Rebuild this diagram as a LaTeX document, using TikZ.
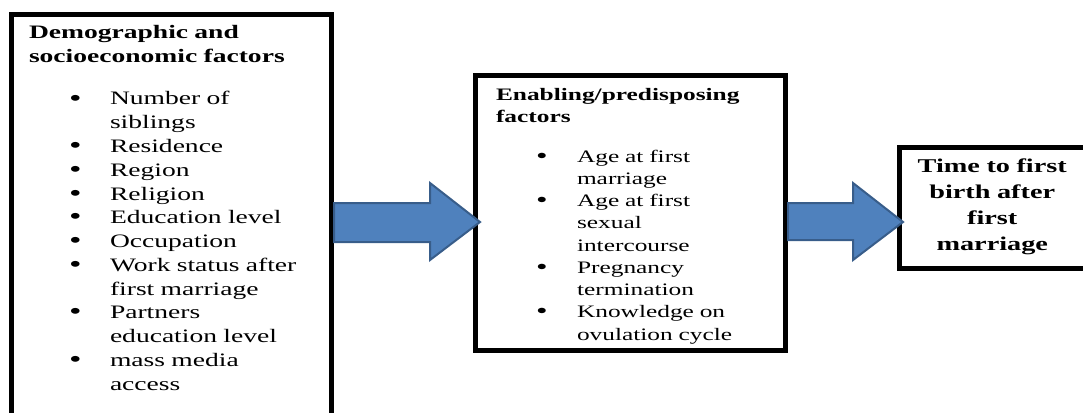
\documentclass[tikz,border=0pt]{standalone}
\usepackage{fontspec}
\setmainfont{Liberation Serif}[FakeStretch=1.45]
\usetikzlibrary{calc}
\definecolor{arrowfill}{RGB}{79,129,189}
\definecolor{arrowline}{RGB}{56,93,138}
\newcommand{\itembul}{\hspace*{40pt}\makebox[41pt][l]{\raisebox{-1pt}{\scalebox{1.3}{\textbullet}}}}
\newcommand{\itemcont}{\hspace*{81pt}}

\begin{document}
\begin{tikzpicture}[x=1pt,y=-1pt,node distance=459pt,auto]
	\tikzstyle{rect1} = [rectangle,line width=5pt,draw=black,fill=white,align=left,
	text width=285pt,inner xsep=17.5pt,inner ysep=0pt,text height=24.5pt,text depth=391pt,
	font=\fontsize{19}{23.75}\selectfont]
	\tikzstyle{rect2} = [rectangle,line width=5pt,draw=black,fill=white,align=left,
	text width=269pt,inner xsep=20.5pt,inner ysep=0pt,text height=24.5pt,text depth=250.5pt,
	font=\fontsize{17.5}{22.25}\selectfont]
	\tikzstyle{rect3} = [rectangle,line width=5pt,draw=black,fill=white,align=center,
	text width=175.5pt,inner xsep=5pt,inner ysep=0pt,text height=25pt,text depth=96pt,
	font=\fontsize{19.5}{26.3}\selectfont\bfseries]
	\tikzstyle{bigarrow} = [fill=arrowfill,draw=arrowline,line width=2pt]
	\useasboundingbox (0,0) rectangle (1083,412);
	\node (node1) [rect1] at (171.5,222.25) {{\bfseries Demographic and\\ socioeconomic factors}\\[18.5pt]
	\itembul Number of\\ \itemcont siblings\\
	\itembul Residence\\
	\itembul Region\\
	\itembul Religion\\
	\itembul Education level\\
	\itembul Occupation\\
	\itembul Work status after\\ \itemcont first marriage\\
	\itembul Partners\\ \itemcont education level\\
	\itembul mass media\\ \itemcont access};
	\node (node2) [rect2, right of=node1, node distance=459pt, yshift=9.25pt] {{\bfseries Enabling/predisposing\\ factors}\\[17.5pt]
	\itembul Age at first\\ \itemcont marriage\\
	\itembul Age at first\\ \itemcont sexual\\ \itemcont intercourse\\
	\itembul Pregnancy\\ \itemcont termination\\
	\itembul Knowledge on\\ \itemcont ovulation cycle};
	\node (node3) [rect3, right of=node2, node distance=361.75pt, yshift=5.5pt] {Time to first\\ birth after\\ first\\ marriage};
	% block arrows between the boxes
	\coordinate (tip1) at ($(node2.west)+(7,9)$);
	\coordinate (tip2) at ($(node3.west)+(6,14.5)$);
	\draw[bigarrow] ($(node1.east |- tip1)+(0,-19)$) -- ($(tip1)+(-50,-19)$) -- ($(tip1)+(-50,-39)$) -- (tip1)
	-- ($(tip1)+(-50,38)$) -- ($(tip1)+(-50,20)$) -- ($(node1.east |- tip1)+(0,20)$) -- cycle;
	\draw[bigarrow] ($(node2.east |- tip2)+(0,-19)$) -- ($(tip2)+(-50,-19)$) -- ($(tip2)+(-50,-39)$) -- (tip2)
	-- ($(tip2)+(-50,38)$) -- ($(tip2)+(-50,18)$) -- ($(node2.east |- tip2)+(0,18)$) -- cycle;
\end{tikzpicture}
\end{document}
